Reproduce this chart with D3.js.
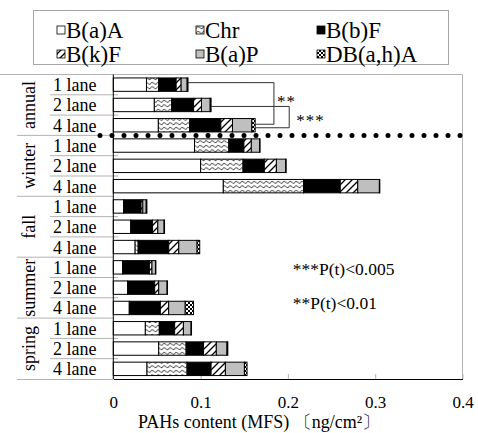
<!DOCTYPE html>
<meta charset="utf-8">
<html>
<head>
<style>
body {
  margin: 0;
  background: #fff;
}
text {
  font-family: "Liberation Serif", "Times New Roman", serif;
  fill: #000;
}
</style>
</head>
<body>

<div id="my_dataviz"></div>

<script src="https://d3js.org/d3.v7.min.js"></script>
<script>

// categories
var groups = ["annual", "winter", "fall", "summer", "spring"];
var lanes = ["1 lane", "2 lane", "4 lane"];
var compounds = ["B(a)A", "Chr", "B(b)F", "B(k)F", "B(a)P", "DB(a,h)A"];

// values (ng/cm2), one per row: annual 1/2/4, winter 1/2/4, fall, summer, spring
var baA  = [0.038, 0.047, 0.0516, 0.093, 0.100, 0.126, 0.0118, 0.020, 0.025, 0.0107, 0.0164, 0.0183, 0.0367, 0.052, 0.0386];
var chr  = [0.014, 0.020, 0.036, 0.0394, 0.0486, 0.092, 0, 0, 0.0035, 0, 0, 0, 0.016, 0.0314, 0.0459];
var bbF  = [0.020, 0.025, 0.0356, 0.0172, 0.0244, 0.042, 0.020, 0.025, 0.035, 0.0306, 0.031, 0.0356, 0.0176, 0.020, 0.0275];
var bkF  = [0.0057, 0.009, 0.0133, 0.0085, 0.0138, 0.020, 0.002, 0.006, 0.0115, 0.003, 0.0046, 0.0095, 0.010, 0.0146, 0.0164];
var baP  = [0.0069, 0.010, 0.0222, 0.0095, 0.0107, 0.0248, 0.0039, 0.0072, 0.021, 0.004, 0.0096, 0.019, 0.0088, 0.0122, 0.0218];
var dbA  = [0.001, 0.001, 0.0038, 0.0005, 0.0005, 0.0005, 0.0008, 0.0005, 0.003, 0.0005, 0.0005, 0.0095, 0.0005, 0.001, 0.003];

var xTicks = [0, 0.1, 0.2, 0.3, 0.4];
var pNotes = ["***P(t)<0.005", "**P(t)<0.01"];

var series = [baA, chr, bbF, bkF, baP, dbA];

// rows for the stack
var rows = [];
groups.forEach(function(g, gi) {
  lanes.forEach(function(l, li) {
    var r = {key: g + "|" + l, group: g, lane: l};
    compounds.forEach(function(c, ci) { r[c] = series[ci][gi * 3 + li]; });
    rows.push(r);
  });
});

var W = 478, H = 433;
var pLeft = 113.3, pRight = 462.5, pTop = 74.5, pBottom = 379;

var svg = d3.select("#my_dataviz")
  .append("svg")
    .attr("width", W)
    .attr("height", H);

var x = d3.scaleLinear().domain([0, 0.4]).range([pLeft, pRight]);
var y = d3.scaleBand().domain(rows.map(function(d) { return d.key; }))
  .range([pTop, pBottom]).paddingInner(0).paddingOuter(0);
var bw = y.bandwidth();
var barH = bw * 0.66;

// fill patterns
var defs = svg.append("defs");

var pChr = defs.append("pattern").attr("id", "pChr")
  .attr("patternUnits", "userSpaceOnUse").attr("width", 6).attr("height", 4.5);
pChr.append("rect").attr("width", 6).attr("height", 4.5).attr("fill", "#fff");
pChr.append("path").attr("d", "M0,3.4 Q1.5,0.2 3,1.6 T6,3.4")
  .attr("fill", "none").attr("stroke", "#222").attr("stroke-width", 0.9);

var pBk = defs.append("pattern").attr("id", "pBk")
  .attr("patternUnits", "userSpaceOnUse").attr("width", 7).attr("height", 7);
pBk.append("rect").attr("width", 7).attr("height", 7).attr("fill", "#fff");
pBk.append("path").attr("d", "M0,7 L7,0 M-1,1 L1,-1 M6,8 L8,6")
  .attr("stroke", "#000").attr("stroke-width", 1.3);

var pDb = defs.append("pattern").attr("id", "pDb")
  .attr("patternUnits", "userSpaceOnUse").attr("width", 4).attr("height", 4);
pDb.append("rect").attr("width", 4).attr("height", 4).attr("fill", "#000");
pDb.append("rect").attr("width", 2).attr("height", 2).attr("fill", "#fff");
pDb.append("rect").attr("x", 2).attr("y", 2).attr("width", 2).attr("height", 2).attr("fill", "#fff");

var fills = ["#fff", "url(#pChr)", "#000", "url(#pBk)", "#bfbfbf", "url(#pDb)"];
var color = d3.scaleOrdinal().domain(compounds).range(fills);

// legend
svg.append("rect")
  .attr("x", 33.5).attr("y", 10.5).attr("width", 415).attr("height", 54)
  .attr("fill", "#fff").attr("stroke", "#a6a6a6");

var legX = [57, 196, 317];
var legY = [30, 54];
var leg = svg.append("g").selectAll("g")
  .data(compounds)
  .enter().append("g")
    .attr("transform", function(d, i) {
      return "translate(" + legX[i % 3] + "," + legY[Math.floor(i / 3)] + ")";
    });
leg.append("rect")
  .attr("x", 0).attr("y", -4).attr("width", 8).attr("height", 8)
  .attr("fill", function(d) { return color(d); })
  .attr("stroke", "#000").attr("stroke-width", 0.8);
leg.append("text")
  .attr("x", 9).attr("y", 8)
  .style("font-size", "23px")
  .text(function(d) { return d; });

// plot frame (gray top / right)
svg.append("path")
  .attr("d", "M0," + pTop + "H" + pRight + "V" + pBottom)
  .attr("fill", "none").attr("stroke", "#b3b3b3");

// category separators
var seps = svg.append("g");
rows.forEach(function(d, i) {
  if (i === 0) return;
  var yy = y(d.key);
  var isGroup = i % 3 === 0;
  seps.append("line")
    .attr("x1", isGroup ? 17 : 50).attr("x2", isGroup ? pLeft : 118)
    .attr("y1", yy).attr("y2", yy)
    .attr("stroke", "#b3b3b3");
});
seps.append("line")
  .attr("x1", 17).attr("x2", pLeft).attr("y1", pBottom + 0.5).attr("y2", pBottom + 0.5)
  .attr("stroke", "#b3b3b3");

// x axis
var xAxis = svg.append("g")
  .attr("transform", "translate(0," + pBottom + ")")
  .call(d3.axisBottom(x).tickValues(xTicks)
    .tickFormat(function(d) { return d === 0 ? "0" : d3.format(".1f")(d); })
    .tickSizeInner(-5).tickSizeOuter(0).tickPadding(17));
xAxis.select(".domain").attr("stroke", "#000");
xAxis.selectAll(".tick line").attr("stroke", "#b3b3b3");
xAxis.selectAll(".tick text")
  .style("font-family", "'Liberation Serif', 'Times New Roman', serif")
  .style("font-size", "17px").attr("fill", "#000");

svg.append("text")
  .attr("x", 259).attr("y", 428)
  .style("text-anchor", "middle")
  .style("font-size", "18px")
  .text("PAHs content (MFS) 〔ng/cm²〕");

// stacked bars
var stacked = d3.stack().keys(compounds)(rows);

svg.append("g")
  .selectAll("g")
  .data(stacked)
  .enter().append("g")
    .attr("fill", function(d) { return color(d.key); })
  .selectAll("rect")
  .data(function(d) { return d; })
  .enter().append("rect")
    .attr("x", function(d) { return x(d[0]); })
    .attr("y", function(d) { return y(d.data.key) + (bw - barH) / 2; })
    .attr("width", function(d) { return x(d[1]) - x(d[0]); })
    .attr("height", barH)
    .attr("stroke", "#000")
    .attr("stroke-width", 1);

// left axis line
svg.append("line")
  .attr("x1", pLeft).attr("x2", pLeft).attr("y1", pTop).attr("y2", pBottom)
  .attr("stroke", "#000");

// row labels
svg.append("g").selectAll("text")
  .data(rows)
  .enter().append("text")
    .attr("x", 53)
    .attr("y", function(d) { return y(d.key) + bw / 2 + 6.5; })
    .style("font-size", "18px")
    .text(function(d) { return d.lane; });

// group labels (vertical)
svg.append("g").selectAll("text")
  .data(groups)
  .enter().append("text")
    .attr("transform", function(d, i) {
      var cy = pTop + (i * 3 + 1.5) * bw;
      return "translate(35," + cy + ") rotate(-90)";
    })
    .style("text-anchor", "middle")
    .style("font-size", "18px")
    .text(function(d) { return d; });

// dotted divider between annual and winter
var yDiv = pTop + 3 * bw;
svg.append("line")
  .attr("x1", 100).attr("x2", 462).attr("y1", yDiv).attr("y2", yDiv)
  .attr("stroke", "#000").attr("stroke-width", 5)
  .attr("stroke-linecap", "round").attr("stroke-dasharray", "0 12");

// significance brackets (annual)
function total(i) { return d3.sum(series, function(s) { return s[i]; }); }
function rowMid(i) { return y(rows[i].key) + bw / 2; }

var br = svg.append("g").attr("fill", "none").attr("stroke", "#333").attr("stroke-width", 1);
br.append("path")
  .attr("d", "M" + x(total(0)) + "," + (rowMid(0) - 2) +
             "H" + x(0.184) + "V" + (rowMid(2) - 1) + "H" + x(total(2)));
br.append("path")
  .attr("d", "M" + x(total(1)) + "," + (rowMid(1) + 1.5) +
             "H" + x(0.2015) + "V" + (rowMid(2) + 2.5) + "H" + x(total(2)));

svg.append("text")
  .attr("x", x(0.184) + 3).attr("y", rowMid(0) + 22)
  .style("font-size", "17px").attr("fill", "#333")
  .style("letter-spacing", "1px")
  .text("**");
svg.append("text")
  .attr("x", x(0.2015) + 7).attr("y", rowMid(1) + 21)
  .style("font-size", "17px").attr("fill", "#333")
  .style("letter-spacing", "1px")
  .text("***");

// p-value notes
svg.append("g").selectAll("text")
  .data(pNotes)
  .enter().append("text")
    .attr("x", 292.7)
    .attr("y", function(d, i) { return 275 + i * 34; })
    .style("font-size", "17.5px")
    .text(function(d) { return d; });

</script>
</body>
</html>
